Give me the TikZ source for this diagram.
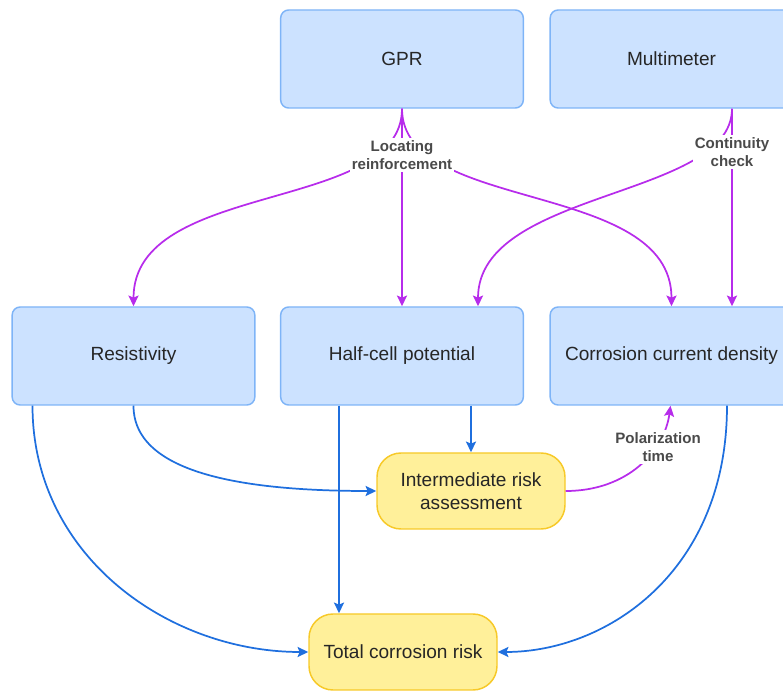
\documentclass[tikz,border=0pt]{standalone}
\usepackage{fontspec}
\setmainfont{Liberation Sans}
\usetikzlibrary{arrows.meta,calc,positioning}

\definecolor{boxblue}{HTML}{CCE2FF}
\definecolor{edgeblue}{HTML}{7EB4F7}
\definecolor{boxyellow}{HTML}{FFF09A}
\definecolor{edgeyellow}{HTML}{F7C928}
\definecolor{linkpurple}{HTML}{B72CEB}
\definecolor{linkblue}{HTML}{1F6FDE}
\definecolor{labelgray}{HTML}{4A4A4A}

\begin{document}
\begin{tikzpicture}[
  x=0.75pt, y=-0.75pt,
  >={Stealth[length=8pt, width=7.5pt, inset=1.5pt]},
  device/.style={draw=edgeblue, line width=1.1pt, fill=boxblue, rounded corners=6pt,
                 minimum width=182pt, minimum height=73.5pt,
                 font=\fontsize{14.3}{17}\selectfont, text=black!85},
  risk/.style={draw=edgeyellow, line width=1.1pt, fill=boxyellow, rounded corners=18pt,
               minimum width=141pt, minimum height=57pt, align=center,
               font=\fontsize{14.3}{17}\selectfont, text=black!85},
  annot/.style={font=\fontsize{11.3}{13.5}\selectfont\bfseries, text=labelgray, align=center,
                fill=white, inner sep=1.5pt},
  parr/.style={->, line width=1.3pt, linkpurple},
  barr/.style={->, line width=1.3pt, linkblue},
]
\clip (0,0) rectangle (783,691);
\useasboundingbox (0,0) rectangle (783,691);

% ===== Instruments =====
\node[device] (gpr) at (402, 59) {GPR};
\node[device] (mm) at (671.5, 59) {Multimeter};

% ===== Measurements =====
\node[device] (res) at (133.5, 356) {Resistivity};
\node[device] (hcp) at (402, 356) {Half-cell potential};
\node[device] (cor) at (671.5, 356) {Corrosion current density};

% ===== Risk =====
\node[risk] (inter) at (471, 491) {Intermediate risk\\assessment};
\node[risk] (total) at (403, 652) {Total corrosion risk};

% ===== GPR links =====
\draw[parr] (gpr.south) .. controls +(0,105) and +(0,-127) .. (res.north);
\draw[parr] (gpr.south) -- (hcp.north);
\draw[parr] (gpr.south) .. controls +(0,105) and +(0,-127) .. (cor.north);
\node[annot] (locate) at (402, 155) {Locating\\reinforcement};

% ===== Multimeter links =====
\coordinate (mmout) at ($(mm.south)+(60.5,0)$);
\coordinate (hcpin) at ($(hcp.north)+(76,0)$);
\draw[parr] (mmout) .. controls +(0,90) and +(0,-117) .. (hcpin);
\draw[parr] (mmout) -- (mmout |- cor.north);
\node[annot] (contin) at (732, 152) {Continuity\\check};

% ===== To intermediate =====
\draw[barr] (hcp.south -| inter.north) -- (inter.north);
\draw[barr] (res.south) .. controls +(0,70) and +(-125,0) .. (inter.west);

% ===== Polarization =====
\draw[parr] (inter.east) .. controls +(62,0) and +(-6,45) .. ($(cor.south)+(-1,0)$);
\node[annot] (polar) at (658, 447) {Polarization\\time};

% ===== To total =====
\coordinate (hcpout) at ($(hcp.south)+(-63,0)$);
\draw[barr] (hcpout) -- (hcpout |- total.north);
\draw[barr] ($(res.south)+(-101,0)$) .. controls +(0,150) and +(-140,0) .. (total.west);
\draw[barr] ($(cor.south)+(55.5,0)$) .. controls +(0,165) and +(110,0) .. (total.east);

\end{tikzpicture}
\end{document}
